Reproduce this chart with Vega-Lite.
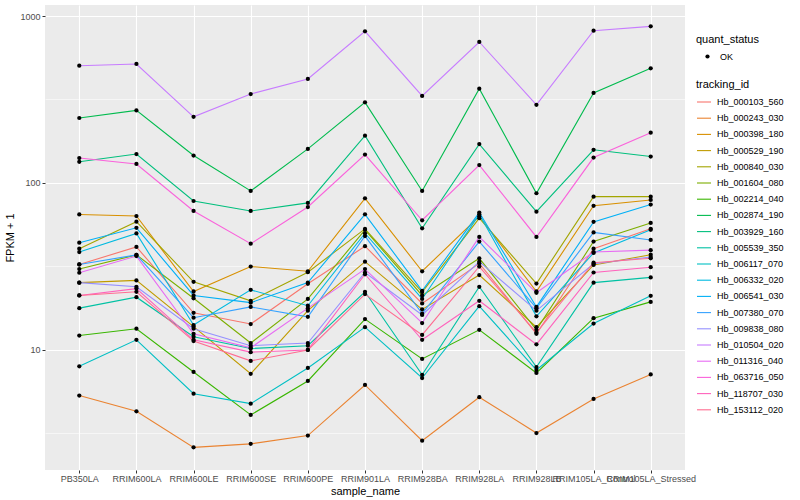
{
  "$schema": "https://vega.github.io/schema/vega-lite/v6.json",
  "width": 640,
  "height": 465,
  "autosize": "none",
  "padding": {"left": 45, "top": 5, "right": 115, "bottom": 30},
  "background": "white",
  "config": {
    "view": {"fill": "#EBEBEB", "stroke": null},
    "font": "Liberation Sans",
    "axis": {"domain": false, "tickColor": "#333333", "tickSize": 3, "labelColor": "#4D4D4D", "labelFontSize": 9, "titleFontSize": 11, "titleFontWeight": "normal", "titleColor": "#000000", "gridColor": "#FFFFFF", "gridWidth": 1.1},
    "legend": {"titleFontSize": 11, "titleFontWeight": "normal", "titleColor": "#000000", "labelFontSize": 9, "labelColor": "#000000", "padding": 0}
  },
  "data": {"values": [
{"tracking_id":"Hb_000103_560","sample_name":"PB350LA","quant_status":"OK","fpkm":32.5},
{"tracking_id":"Hb_000103_560","sample_name":"RRIM600LA","quant_status":"OK","fpkm":41.4},
{"tracking_id":"Hb_000103_560","sample_name":"RRIM600LE","quant_status":"OK","fpkm":16.7},
{"tracking_id":"Hb_000103_560","sample_name":"RRIM600SE","quant_status":"OK","fpkm":14.3},
{"tracking_id":"Hb_000103_560","sample_name":"RRIM600PE","quant_status":"OK","fpkm":24.9},
{"tracking_id":"Hb_000103_560","sample_name":"RRIM901LA","quant_status":"OK","fpkm":41.8},
{"tracking_id":"Hb_000103_560","sample_name":"RRIM928BA","quant_status":"OK","fpkm":19.0},
{"tracking_id":"Hb_000103_560","sample_name":"RRIM928LA","quant_status":"OK","fpkm":33.0},
{"tracking_id":"Hb_000103_560","sample_name":"RRIM928LB","quant_status":"OK","fpkm":12.5},
{"tracking_id":"Hb_000103_560","sample_name":"RRIM105LA_Control","quant_status":"OK","fpkm":40.4},
{"tracking_id":"Hb_000103_560","sample_name":"RRIM105LA_Stressed","quant_status":"OK","fpkm":53.2},
{"tracking_id":"Hb_000243_030","sample_name":"PB350LA","quant_status":"OK","fpkm":5.33},
{"tracking_id":"Hb_000243_030","sample_name":"RRIM600LA","quant_status":"OK","fpkm":4.29},
{"tracking_id":"Hb_000243_030","sample_name":"RRIM600LE","quant_status":"OK","fpkm":2.61},
{"tracking_id":"Hb_000243_030","sample_name":"RRIM600SE","quant_status":"OK","fpkm":2.74},
{"tracking_id":"Hb_000243_030","sample_name":"RRIM600PE","quant_status":"OK","fpkm":3.07},
{"tracking_id":"Hb_000243_030","sample_name":"RRIM901LA","quant_status":"OK","fpkm":6.17},
{"tracking_id":"Hb_000243_030","sample_name":"RRIM928BA","quant_status":"OK","fpkm":2.86},
{"tracking_id":"Hb_000243_030","sample_name":"RRIM928LA","quant_status":"OK","fpkm":5.21},
{"tracking_id":"Hb_000243_030","sample_name":"RRIM928LB","quant_status":"OK","fpkm":3.18},
{"tracking_id":"Hb_000243_030","sample_name":"RRIM105LA_Control","quant_status":"OK","fpkm":5.09},
{"tracking_id":"Hb_000243_030","sample_name":"RRIM105LA_Stressed","quant_status":"OK","fpkm":7.14},
{"tracking_id":"Hb_000398_180","sample_name":"PB350LA","quant_status":"OK","fpkm":64.8},
{"tracking_id":"Hb_000398_180","sample_name":"RRIM600LA","quant_status":"OK","fpkm":63.4},
{"tracking_id":"Hb_000398_180","sample_name":"RRIM600LE","quant_status":"OK","fpkm":22.4},
{"tracking_id":"Hb_000398_180","sample_name":"RRIM600SE","quant_status":"OK","fpkm":31.6},
{"tracking_id":"Hb_000398_180","sample_name":"RRIM600PE","quant_status":"OK","fpkm":29.6},
{"tracking_id":"Hb_000398_180","sample_name":"RRIM901LA","quant_status":"OK","fpkm":80.9},
{"tracking_id":"Hb_000398_180","sample_name":"RRIM928BA","quant_status":"OK","fpkm":29.6},
{"tracking_id":"Hb_000398_180","sample_name":"RRIM928LA","quant_status":"OK","fpkm":63.2},
{"tracking_id":"Hb_000398_180","sample_name":"RRIM928LB","quant_status":"OK","fpkm":22.4},
{"tracking_id":"Hb_000398_180","sample_name":"RRIM105LA_Control","quant_status":"OK","fpkm":73.0},
{"tracking_id":"Hb_000398_180","sample_name":"RRIM105LA_Stressed","quant_status":"OK","fpkm":79.1},
{"tracking_id":"Hb_000529_190","sample_name":"PB350LA","quant_status":"OK","fpkm":25.3},
{"tracking_id":"Hb_000529_190","sample_name":"RRIM600LA","quant_status":"OK","fpkm":26.1},
{"tracking_id":"Hb_000529_190","sample_name":"RRIM600LE","quant_status":"OK","fpkm":13.8},
{"tracking_id":"Hb_000529_190","sample_name":"RRIM600SE","quant_status":"OK","fpkm":7.2},
{"tracking_id":"Hb_000529_190","sample_name":"RRIM600PE","quant_status":"OK","fpkm":17.2},
{"tracking_id":"Hb_000529_190","sample_name":"RRIM901LA","quant_status":"OK","fpkm":33.8},
{"tracking_id":"Hb_000529_190","sample_name":"RRIM928BA","quant_status":"OK","fpkm":17.5},
{"tracking_id":"Hb_000529_190","sample_name":"RRIM928LA","quant_status":"OK","fpkm":28.1},
{"tracking_id":"Hb_000529_190","sample_name":"RRIM928LB","quant_status":"OK","fpkm":13.7},
{"tracking_id":"Hb_000529_190","sample_name":"RRIM105LA_Control","quant_status":"OK","fpkm":32.3},
{"tracking_id":"Hb_000529_190","sample_name":"RRIM105LA_Stressed","quant_status":"OK","fpkm":37.2},
{"tracking_id":"Hb_000840_030","sample_name":"PB350LA","quant_status":"OK","fpkm":40.4},
{"tracking_id":"Hb_000840_030","sample_name":"RRIM600LA","quant_status":"OK","fpkm":58.6},
{"tracking_id":"Hb_000840_030","sample_name":"RRIM600LE","quant_status":"OK","fpkm":25.6},
{"tracking_id":"Hb_000840_030","sample_name":"RRIM600SE","quant_status":"OK","fpkm":19.7},
{"tracking_id":"Hb_000840_030","sample_name":"RRIM600PE","quant_status":"OK","fpkm":29.2},
{"tracking_id":"Hb_000840_030","sample_name":"RRIM901LA","quant_status":"OK","fpkm":53.1},
{"tracking_id":"Hb_000840_030","sample_name":"RRIM928BA","quant_status":"OK","fpkm":22.2},
{"tracking_id":"Hb_000840_030","sample_name":"RRIM928LA","quant_status":"OK","fpkm":61.5},
{"tracking_id":"Hb_000840_030","sample_name":"RRIM928LB","quant_status":"OK","fpkm":25.0},
{"tracking_id":"Hb_000840_030","sample_name":"RRIM105LA_Control","quant_status":"OK","fpkm":82.8},
{"tracking_id":"Hb_000840_030","sample_name":"RRIM105LA_Stressed","quant_status":"OK","fpkm":82.8},
{"tracking_id":"Hb_001604_080","sample_name":"PB350LA","quant_status":"OK","fpkm":30.5},
{"tracking_id":"Hb_001604_080","sample_name":"RRIM600LA","quant_status":"OK","fpkm":37.1},
{"tracking_id":"Hb_001604_080","sample_name":"RRIM600LE","quant_status":"OK","fpkm":20.4},
{"tracking_id":"Hb_001604_080","sample_name":"RRIM600SE","quant_status":"OK","fpkm":11.0},
{"tracking_id":"Hb_001604_080","sample_name":"RRIM600PE","quant_status":"OK","fpkm":20.2},
{"tracking_id":"Hb_001604_080","sample_name":"RRIM901LA","quant_status":"OK","fpkm":52.4},
{"tracking_id":"Hb_001604_080","sample_name":"RRIM928BA","quant_status":"OK","fpkm":21.2},
{"tracking_id":"Hb_001604_080","sample_name":"RRIM928LA","quant_status":"OK","fpkm":35.4},
{"tracking_id":"Hb_001604_080","sample_name":"RRIM928LB","quant_status":"OK","fpkm":13.2},
{"tracking_id":"Hb_001604_080","sample_name":"RRIM105LA_Control","quant_status":"OK","fpkm":44.6},
{"tracking_id":"Hb_001604_080","sample_name":"RRIM105LA_Stressed","quant_status":"OK","fpkm":57.6},
{"tracking_id":"Hb_002214_040","sample_name":"PB350LA","quant_status":"OK","fpkm":12.2},
{"tracking_id":"Hb_002214_040","sample_name":"RRIM600LA","quant_status":"OK","fpkm":13.4},
{"tracking_id":"Hb_002214_040","sample_name":"RRIM600LE","quant_status":"OK","fpkm":7.38},
{"tracking_id":"Hb_002214_040","sample_name":"RRIM600SE","quant_status":"OK","fpkm":4.08},
{"tracking_id":"Hb_002214_040","sample_name":"RRIM600PE","quant_status":"OK","fpkm":6.52},
{"tracking_id":"Hb_002214_040","sample_name":"RRIM901LA","quant_status":"OK","fpkm":15.3},
{"tracking_id":"Hb_002214_040","sample_name":"RRIM928BA","quant_status":"OK","fpkm":8.83},
{"tracking_id":"Hb_002214_040","sample_name":"RRIM928LA","quant_status":"OK","fpkm":13.2},
{"tracking_id":"Hb_002214_040","sample_name":"RRIM928LB","quant_status":"OK","fpkm":7.28},
{"tracking_id":"Hb_002214_040","sample_name":"RRIM105LA_Control","quant_status":"OK","fpkm":15.5},
{"tracking_id":"Hb_002214_040","sample_name":"RRIM105LA_Stressed","quant_status":"OK","fpkm":19.4},
{"tracking_id":"Hb_002874_190","sample_name":"PB350LA","quant_status":"OK","fpkm":245},
{"tracking_id":"Hb_002874_190","sample_name":"RRIM600LA","quant_status":"OK","fpkm":272},
{"tracking_id":"Hb_002874_190","sample_name":"RRIM600LE","quant_status":"OK","fpkm":146},
{"tracking_id":"Hb_002874_190","sample_name":"RRIM600SE","quant_status":"OK","fpkm":89.6},
{"tracking_id":"Hb_002874_190","sample_name":"RRIM600PE","quant_status":"OK","fpkm":160},
{"tracking_id":"Hb_002874_190","sample_name":"RRIM901LA","quant_status":"OK","fpkm":304},
{"tracking_id":"Hb_002874_190","sample_name":"RRIM928BA","quant_status":"OK","fpkm":89.6},
{"tracking_id":"Hb_002874_190","sample_name":"RRIM928LA","quant_status":"OK","fpkm":367},
{"tracking_id":"Hb_002874_190","sample_name":"RRIM928LB","quant_status":"OK","fpkm":86.8},
{"tracking_id":"Hb_002874_190","sample_name":"RRIM105LA_Control","quant_status":"OK","fpkm":346},
{"tracking_id":"Hb_002874_190","sample_name":"RRIM105LA_Stressed","quant_status":"OK","fpkm":486},
{"tracking_id":"Hb_003929_160","sample_name":"PB350LA","quant_status":"OK","fpkm":134},
{"tracking_id":"Hb_003929_160","sample_name":"RRIM600LA","quant_status":"OK","fpkm":149},
{"tracking_id":"Hb_003929_160","sample_name":"RRIM600LE","quant_status":"OK","fpkm":78},
{"tracking_id":"Hb_003929_160","sample_name":"RRIM600SE","quant_status":"OK","fpkm":68},
{"tracking_id":"Hb_003929_160","sample_name":"RRIM600PE","quant_status":"OK","fpkm":76},
{"tracking_id":"Hb_003929_160","sample_name":"RRIM901LA","quant_status":"OK","fpkm":192},
{"tracking_id":"Hb_003929_160","sample_name":"RRIM928BA","quant_status":"OK","fpkm":53.5},
{"tracking_id":"Hb_003929_160","sample_name":"RRIM928LA","quant_status":"OK","fpkm":171},
{"tracking_id":"Hb_003929_160","sample_name":"RRIM928LB","quant_status":"OK","fpkm":67.3},
{"tracking_id":"Hb_003929_160","sample_name":"RRIM105LA_Control","quant_status":"OK","fpkm":158},
{"tracking_id":"Hb_003929_160","sample_name":"RRIM105LA_Stressed","quant_status":"OK","fpkm":144},
{"tracking_id":"Hb_005539_350","sample_name":"PB350LA","quant_status":"OK","fpkm":17.8},
{"tracking_id":"Hb_005539_350","sample_name":"RRIM600LA","quant_status":"OK","fpkm":20.7},
{"tracking_id":"Hb_005539_350","sample_name":"RRIM600LE","quant_status":"OK","fpkm":12.0},
{"tracking_id":"Hb_005539_350","sample_name":"RRIM600SE","quant_status":"OK","fpkm":10.2},
{"tracking_id":"Hb_005539_350","sample_name":"RRIM600PE","quant_status":"OK","fpkm":10.6},
{"tracking_id":"Hb_005539_350","sample_name":"RRIM901LA","quant_status":"OK","fpkm":22.3},
{"tracking_id":"Hb_005539_350","sample_name":"RRIM928BA","quant_status":"OK","fpkm":7.1},
{"tracking_id":"Hb_005539_350","sample_name":"RRIM928LA","quant_status":"OK","fpkm":23.9},
{"tracking_id":"Hb_005539_350","sample_name":"RRIM928LB","quant_status":"OK","fpkm":7.9},
{"tracking_id":"Hb_005539_350","sample_name":"RRIM105LA_Control","quant_status":"OK","fpkm":25.3},
{"tracking_id":"Hb_005539_350","sample_name":"RRIM105LA_Stressed","quant_status":"OK","fpkm":27.2},
{"tracking_id":"Hb_006117_070","sample_name":"PB350LA","quant_status":"OK","fpkm":7.98},
{"tracking_id":"Hb_006117_070","sample_name":"RRIM600LA","quant_status":"OK","fpkm":11.5},
{"tracking_id":"Hb_006117_070","sample_name":"RRIM600LE","quant_status":"OK","fpkm":5.47},
{"tracking_id":"Hb_006117_070","sample_name":"RRIM600SE","quant_status":"OK","fpkm":4.77},
{"tracking_id":"Hb_006117_070","sample_name":"RRIM600PE","quant_status":"OK","fpkm":7.8},
{"tracking_id":"Hb_006117_070","sample_name":"RRIM901LA","quant_status":"OK","fpkm":13.7},
{"tracking_id":"Hb_006117_070","sample_name":"RRIM928BA","quant_status":"OK","fpkm":6.79},
{"tracking_id":"Hb_006117_070","sample_name":"RRIM928LA","quant_status":"OK","fpkm":18.3},
{"tracking_id":"Hb_006117_070","sample_name":"RRIM928LB","quant_status":"OK","fpkm":7.59},
{"tracking_id":"Hb_006117_070","sample_name":"RRIM105LA_Control","quant_status":"OK","fpkm":14.4},
{"tracking_id":"Hb_006117_070","sample_name":"RRIM105LA_Stressed","quant_status":"OK","fpkm":21.1},
{"tracking_id":"Hb_006332_020","sample_name":"PB350LA","quant_status":"OK","fpkm":38.6},
{"tracking_id":"Hb_006332_020","sample_name":"RRIM600LA","quant_status":"OK","fpkm":49.9},
{"tracking_id":"Hb_006332_020","sample_name":"RRIM600LE","quant_status":"OK","fpkm":14.1},
{"tracking_id":"Hb_006332_020","sample_name":"RRIM600SE","quant_status":"OK","fpkm":22.9},
{"tracking_id":"Hb_006332_020","sample_name":"RRIM600PE","quant_status":"OK","fpkm":18.4},
{"tracking_id":"Hb_006332_020","sample_name":"RRIM901LA","quant_status":"OK","fpkm":50.0},
{"tracking_id":"Hb_006332_020","sample_name":"RRIM928BA","quant_status":"OK","fpkm":20.2},
{"tracking_id":"Hb_006332_020","sample_name":"RRIM928LA","quant_status":"OK","fpkm":64.9},
{"tracking_id":"Hb_006332_020","sample_name":"RRIM928LB","quant_status":"OK","fpkm":15.9},
{"tracking_id":"Hb_006332_020","sample_name":"RRIM105LA_Control","quant_status":"OK","fpkm":38.1},
{"tracking_id":"Hb_006332_020","sample_name":"RRIM105LA_Stressed","quant_status":"OK","fpkm":52.4},
{"tracking_id":"Hb_006541_030","sample_name":"PB350LA","quant_status":"OK","fpkm":43.9},
{"tracking_id":"Hb_006541_030","sample_name":"RRIM600LA","quant_status":"OK","fpkm":53.9},
{"tracking_id":"Hb_006541_030","sample_name":"RRIM600LE","quant_status":"OK","fpkm":21.2},
{"tracking_id":"Hb_006541_030","sample_name":"RRIM600SE","quant_status":"OK","fpkm":19.2},
{"tracking_id":"Hb_006541_030","sample_name":"RRIM600PE","quant_status":"OK","fpkm":25.3},
{"tracking_id":"Hb_006541_030","sample_name":"RRIM901LA","quant_status":"OK","fpkm":64.9},
{"tracking_id":"Hb_006541_030","sample_name":"RRIM928BA","quant_status":"OK","fpkm":22.6},
{"tracking_id":"Hb_006541_030","sample_name":"RRIM928LA","quant_status":"OK","fpkm":66.5},
{"tracking_id":"Hb_006541_030","sample_name":"RRIM928LB","quant_status":"OK","fpkm":18.1},
{"tracking_id":"Hb_006541_030","sample_name":"RRIM105LA_Control","quant_status":"OK","fpkm":58.5},
{"tracking_id":"Hb_006541_030","sample_name":"RRIM105LA_Stressed","quant_status":"OK","fpkm":74.3},
{"tracking_id":"Hb_007380_070","sample_name":"PB350LA","quant_status":"OK","fpkm":32.5},
{"tracking_id":"Hb_007380_070","sample_name":"RRIM600LA","quant_status":"OK","fpkm":37.1},
{"tracking_id":"Hb_007380_070","sample_name":"RRIM600LE","quant_status":"OK","fpkm":15.6},
{"tracking_id":"Hb_007380_070","sample_name":"RRIM600SE","quant_status":"OK","fpkm":18.1},
{"tracking_id":"Hb_007380_070","sample_name":"RRIM600PE","quant_status":"OK","fpkm":15.8},
{"tracking_id":"Hb_007380_070","sample_name":"RRIM901LA","quant_status":"OK","fpkm":48.1},
{"tracking_id":"Hb_007380_070","sample_name":"RRIM928BA","quant_status":"OK","fpkm":16.5},
{"tracking_id":"Hb_007380_070","sample_name":"RRIM928LA","quant_status":"OK","fpkm":44.6},
{"tracking_id":"Hb_007380_070","sample_name":"RRIM928LB","quant_status":"OK","fpkm":17.8},
{"tracking_id":"Hb_007380_070","sample_name":"RRIM105LA_Control","quant_status":"OK","fpkm":50.6},
{"tracking_id":"Hb_007380_070","sample_name":"RRIM105LA_Stressed","quant_status":"OK","fpkm":45.6},
{"tracking_id":"Hb_009838_080","sample_name":"PB350LA","quant_status":"OK","fpkm":25.3},
{"tracking_id":"Hb_009838_080","sample_name":"RRIM600LA","quant_status":"OK","fpkm":23.9},
{"tracking_id":"Hb_009838_080","sample_name":"RRIM600LE","quant_status":"OK","fpkm":13.4},
{"tracking_id":"Hb_009838_080","sample_name":"RRIM600SE","quant_status":"OK","fpkm":10.6},
{"tracking_id":"Hb_009838_080","sample_name":"RRIM600PE","quant_status":"OK","fpkm":11.0},
{"tracking_id":"Hb_009838_080","sample_name":"RRIM901LA","quant_status":"OK","fpkm":29.1},
{"tracking_id":"Hb_009838_080","sample_name":"RRIM928BA","quant_status":"OK","fpkm":16.2},
{"tracking_id":"Hb_009838_080","sample_name":"RRIM928LA","quant_status":"OK","fpkm":33.8},
{"tracking_id":"Hb_009838_080","sample_name":"RRIM928LB","quant_status":"OK","fpkm":17.2},
{"tracking_id":"Hb_009838_080","sample_name":"RRIM105LA_Control","quant_status":"OK","fpkm":32.8},
{"tracking_id":"Hb_009838_080","sample_name":"RRIM105LA_Stressed","quant_status":"OK","fpkm":36.0},
{"tracking_id":"Hb_010504_020","sample_name":"PB350LA","quant_status":"OK","fpkm":504},
{"tracking_id":"Hb_010504_020","sample_name":"RRIM600LA","quant_status":"OK","fpkm":516},
{"tracking_id":"Hb_010504_020","sample_name":"RRIM600LE","quant_status":"OK","fpkm":249},
{"tracking_id":"Hb_010504_020","sample_name":"RRIM600SE","quant_status":"OK","fpkm":341},
{"tracking_id":"Hb_010504_020","sample_name":"RRIM600PE","quant_status":"OK","fpkm":420},
{"tracking_id":"Hb_010504_020","sample_name":"RRIM901LA","quant_status":"OK","fpkm":810},
{"tracking_id":"Hb_010504_020","sample_name":"RRIM928BA","quant_status":"OK","fpkm":332},
{"tracking_id":"Hb_010504_020","sample_name":"RRIM928LA","quant_status":"OK","fpkm":699},
{"tracking_id":"Hb_010504_020","sample_name":"RRIM928LB","quant_status":"OK","fpkm":294},
{"tracking_id":"Hb_010504_020","sample_name":"RRIM105LA_Control","quant_status":"OK","fpkm":817},
{"tracking_id":"Hb_010504_020","sample_name":"RRIM105LA_Stressed","quant_status":"OK","fpkm":867},
{"tracking_id":"Hb_011316_040","sample_name":"PB350LA","quant_status":"OK","fpkm":29.0},
{"tracking_id":"Hb_011316_040","sample_name":"RRIM600LA","quant_status":"OK","fpkm":36.5},
{"tracking_id":"Hb_011316_040","sample_name":"RRIM600LE","quant_status":"OK","fpkm":12.5},
{"tracking_id":"Hb_011316_040","sample_name":"RRIM600SE","quant_status":"OK","fpkm":10.3},
{"tracking_id":"Hb_011316_040","sample_name":"RRIM600PE","quant_status":"OK","fpkm":17.8},
{"tracking_id":"Hb_011316_040","sample_name":"RRIM901LA","quant_status":"OK","fpkm":30.5},
{"tracking_id":"Hb_011316_040","sample_name":"RRIM928BA","quant_status":"OK","fpkm":14.5},
{"tracking_id":"Hb_011316_040","sample_name":"RRIM928LA","quant_status":"OK","fpkm":47.5},
{"tracking_id":"Hb_011316_040","sample_name":"RRIM928LB","quant_status":"OK","fpkm":22.0},
{"tracking_id":"Hb_011316_040","sample_name":"RRIM105LA_Control","quant_status":"OK","fpkm":38.6},
{"tracking_id":"Hb_011316_040","sample_name":"RRIM105LA_Stressed","quant_status":"OK","fpkm":39.6},
{"tracking_id":"Hb_063716_050","sample_name":"PB350LA","quant_status":"OK","fpkm":141},
{"tracking_id":"Hb_063716_050","sample_name":"RRIM600LA","quant_status":"OK","fpkm":130},
{"tracking_id":"Hb_063716_050","sample_name":"RRIM600LE","quant_status":"OK","fpkm":68},
{"tracking_id":"Hb_063716_050","sample_name":"RRIM600SE","quant_status":"OK","fpkm":43.3},
{"tracking_id":"Hb_063716_050","sample_name":"RRIM600PE","quant_status":"OK","fpkm":71.8},
{"tracking_id":"Hb_063716_050","sample_name":"RRIM901LA","quant_status":"OK","fpkm":148},
{"tracking_id":"Hb_063716_050","sample_name":"RRIM928BA","quant_status":"OK","fpkm":59.8},
{"tracking_id":"Hb_063716_050","sample_name":"RRIM928LA","quant_status":"OK","fpkm":128},
{"tracking_id":"Hb_063716_050","sample_name":"RRIM928LB","quant_status":"OK","fpkm":47.5},
{"tracking_id":"Hb_063716_050","sample_name":"RRIM105LA_Control","quant_status":"OK","fpkm":142},
{"tracking_id":"Hb_063716_050","sample_name":"RRIM105LA_Stressed","quant_status":"OK","fpkm":200},
{"tracking_id":"Hb_118707_030","sample_name":"PB350LA","quant_status":"OK","fpkm":21.2},
{"tracking_id":"Hb_118707_030","sample_name":"RRIM600LA","quant_status":"OK","fpkm":23.3},
{"tracking_id":"Hb_118707_030","sample_name":"RRIM600LE","quant_status":"OK","fpkm":11.5},
{"tracking_id":"Hb_118707_030","sample_name":"RRIM600SE","quant_status":"OK","fpkm":9.7},
{"tracking_id":"Hb_118707_030","sample_name":"RRIM600PE","quant_status":"OK","fpkm":10.0},
{"tracking_id":"Hb_118707_030","sample_name":"RRIM901LA","quant_status":"OK","fpkm":28.4},
{"tracking_id":"Hb_118707_030","sample_name":"RRIM928BA","quant_status":"OK","fpkm":11.5},
{"tracking_id":"Hb_118707_030","sample_name":"RRIM928LA","quant_status":"OK","fpkm":19.7},
{"tracking_id":"Hb_118707_030","sample_name":"RRIM928LB","quant_status":"OK","fpkm":10.8},
{"tracking_id":"Hb_118707_030","sample_name":"RRIM105LA_Control","quant_status":"OK","fpkm":29.1},
{"tracking_id":"Hb_118707_030","sample_name":"RRIM105LA_Stressed","quant_status":"OK","fpkm":31.3},
{"tracking_id":"Hb_153112_020","sample_name":"PB350LA","quant_status":"OK","fpkm":21.2},
{"tracking_id":"Hb_153112_020","sample_name":"RRIM600LA","quant_status":"OK","fpkm":22.3},
{"tracking_id":"Hb_153112_020","sample_name":"RRIM600LE","quant_status":"OK","fpkm":11.3},
{"tracking_id":"Hb_153112_020","sample_name":"RRIM600SE","quant_status":"OK","fpkm":8.6},
{"tracking_id":"Hb_153112_020","sample_name":"RRIM600PE","quant_status":"OK","fpkm":10.0},
{"tracking_id":"Hb_153112_020","sample_name":"RRIM901LA","quant_status":"OK","fpkm":21.6},
{"tracking_id":"Hb_153112_020","sample_name":"RRIM928BA","quant_status":"OK","fpkm":12.3},
{"tracking_id":"Hb_153112_020","sample_name":"RRIM928LA","quant_status":"OK","fpkm":31.6},
{"tracking_id":"Hb_153112_020","sample_name":"RRIM928LB","quant_status":"OK","fpkm":12.7},
{"tracking_id":"Hb_153112_020","sample_name":"RRIM105LA_Control","quant_status":"OK","fpkm":33.3},
{"tracking_id":"Hb_153112_020","sample_name":"RRIM105LA_Stressed","quant_status":"OK","fpkm":35.4}
  ]},
  "encoding": {
    "x": {
      "field": "sample_name", "type": "nominal",
      "scale": {"type": "point", "padding": 0.6, "domain": ["PB350LA","RRIM600LA","RRIM600LE","RRIM600SE","RRIM600PE","RRIM901LA","RRIM928BA","RRIM928LA","RRIM928LB","RRIM105LA_Control","RRIM105LA_Stressed"]},
      "axis": {"title": "sample_name", "labelAngle": 0, "grid": true, "labelPadding": 1, "titlePadding": 2}
    },
    "y": {
      "field": "fpkm", "type": "quantitative",
      "scale": {"type": "log", "domain": [1.91, 1164], "nice": false},
      "axis": {
        "title": "FPKM + 1",
        "values": [3.1623, 10, 31.623, 100, 316.23, 1000],
        "labelExpr": "(datum.value == 10 || datum.value == 100 || datum.value == 1000) ? format(datum.value, 'd') : ''",
        "gridWidth": {"condition": {"test": "datum.value == 10 || datum.value == 100 || datum.value == 1000", "value": 1.1}, "value": 0.55},
        "tickColor": {"condition": {"test": "datum.value == 10 || datum.value == 100 || datum.value == 1000", "value": "#333333"}, "value": "transparent"},
        "labelPadding": 2, "titlePadding": 4
      }
    }
  },
  "layer": [
    {
      "mark": {"type": "line", "strokeWidth": 1.1},
      "encoding": {
        "color": {
          "field": "tracking_id", "type": "nominal",
          "scale": {
            "domain": ["Hb_000103_560","Hb_000243_030","Hb_000398_180","Hb_000529_190","Hb_000840_030","Hb_001604_080","Hb_002214_040","Hb_002874_190","Hb_003929_160","Hb_005539_350","Hb_006117_070","Hb_006332_020","Hb_006541_030","Hb_007380_070","Hb_009838_080","Hb_010504_020","Hb_011316_040","Hb_063716_050","Hb_118707_030","Hb_153112_020"],
            "range": ["#F8766D","#EA8331","#D89000","#C09B00","#A3A500","#7CAE00","#39B600","#00BB4E","#00BF7D","#00C1A3","#00BFC4","#00BAE0","#00B0F6","#35A2FF","#9590FF","#C77CFF","#E76BF3","#FA62DB","#FF62BC","#FF6C91"]
          },
          "legend": {"title": "tracking_id", "orient": "none", "legendX": 651, "legendY": 74, "symbolType": "stroke", "symbolSize": 196, "symbolStrokeWidth": 1.1, "rowPadding": 3.2, "titlePadding": 4, "labelOffset": 5}
        }
      }
    },
    {
      "mark": {"type": "point", "filled": true, "color": "black", "size": 18, "opacity": 1},
      "encoding": {
        "shape": {
          "field": "quant_status", "type": "nominal",
          "scale": {"range": ["circle"]},
          "legend": {"title": "quant_status", "orient": "none", "legendX": 651, "legendY": 29, "symbolSize": 18, "symbolFillColor": "black", "symbolStrokeColor": "black", "symbolOffset": 7, "labelOffset": 8, "titlePadding": 7}
        }
      }
    }
  ]
}
